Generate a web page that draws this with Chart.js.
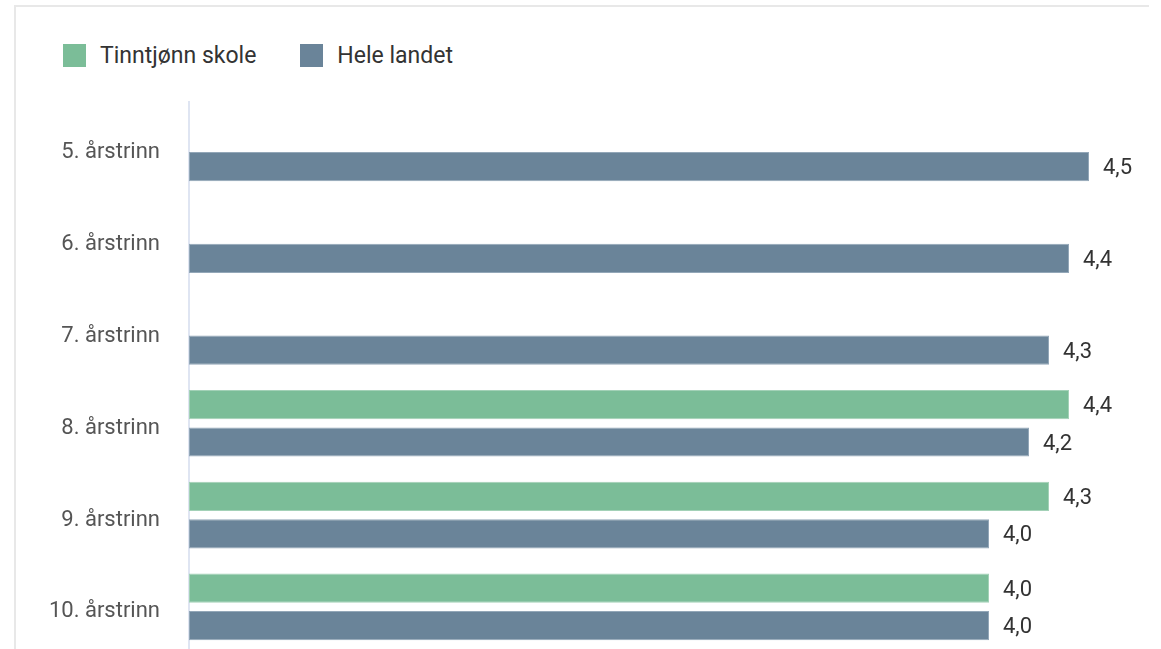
<!DOCTYPE html>
<html>
<head>
<meta charset="utf-8">
<script src="https://cdn.jsdelivr.net/npm/chart.js@4.4.0/dist/chart.umd.min.js"></script>
<style>
  html, body { margin: 0; padding: 0; background: #fff; overflow: hidden; width: 1161px; height: 649px; }
  .card { position: absolute; left: 14px; top: 5px; width: 1133px; height: 700px;
          border-top: 2px solid #e8e8e8; border-left: 2px solid #e8e8e8; }
  .legend { position: absolute; left: 63px; top: 42px; font-family: Roboto, sans-serif;
            font-size: 23px; color: #333; display: flex; align-items: center; }
  .legend span.box { display: inline-block; width: 23px; height: 23px; margin-right: 14px; }
  .legend .item { display: flex; align-items: center; margin-right: 44px; }
  #wrap { position: absolute; left: 0; top: 0; }
</style>
</head>
<body>
<div class="card"></div>
<div class="legend" id="legend"></div>
<div id="wrap"><canvas id="chart" width="1200" height="695"></canvas></div>
<script>
// categories and values
const categories = ['5. årstrinn', '6. årstrinn', '7. årstrinn', '8. årstrinn', '9. årstrinn', '10. årstrinn'];
const skoleValues = [null, null, null, 4.4, 4.3, 4.0];
const landetValues = [4.5, 4.4, 4.3, 4.2, 4.0, 4.0];
const seriesNames = ['Tinntjønn skole', 'Hele landet'];
const seriesColors = ['#7bbd98', '#6a8499'];
const seriesBorders = ['#a3d1b7', '#93a7b8'];

// simple html legend
const legendEl = document.getElementById('legend');
seriesNames.forEach((name, i) => {
  const item = document.createElement('div');
  item.className = 'item';
  item.innerHTML = `<span class="box" style="background:${seriesColors[i]}"></span>${name}`;
  legendEl.appendChild(item);
});

// value labels at the end of each bar
const valueLabels = {
  id: 'valueLabels',
  afterDatasetsDraw(chart) {
    const ctx = chart.ctx;
    ctx.save();
    ctx.font = '22px Roboto, sans-serif';
    ctx.fillStyle = '#333';
    ctx.textBaseline = 'middle';
    chart.data.datasets.forEach((ds, di) => {
      chart.getDatasetMeta(di).data.forEach((bar, i) => {
        const v = ds.data[i];
        if (v === null || v === undefined) return;
        ctx.fillText(v.toFixed(1).replace('.', ','), bar.x + 14, bar.y + 2);
      });
    });
    ctx.restore();
  }
};

const ctx = document.getElementById('chart').getContext('2d');
new Chart(ctx, {
  type: 'bar',
  data: {
    labels: categories,
    datasets: [{
      label: seriesNames[0],
      data: skoleValues,
      backgroundColor: seriesColors[0],
      borderColor: seriesBorders[0],
      borderWidth: 1,
      borderSkipped: false,
      barPercentage: 0.78,
      categoryPercentage: 0.815
    }, {
      label: seriesNames[1],
      data: landetValues,
      backgroundColor: seriesColors[1],
      borderColor: seriesBorders[1],
      borderWidth: 1,
      borderSkipped: false,
      barPercentage: 0.78,
      categoryPercentage: 0.815
    }]
  },
  options: {
    indexAxis: 'y',
    responsive: false,
    animation: false,
    layout: { padding: { top: 102, bottom: 10, left: 0, right: 11 } },
    plugins: {
      legend: { display: false },
      tooltip: { enabled: false }
    },
    scales: {
      x: {
        display: false,
        min: 0,
        max: 5
      },
      y: {
        grid: { display: false, drawTicks: false },
        border: { display: true, color: '#dfe5f2', width: 2 },
        ticks: { color: '#555', padding: 29, labelOffset: 5, font: { family: 'Roboto', size: 22 } },
        afterFit(scale) { scale.width = 189; }
      }
    }
  },
  plugins: [valueLabels]
});
</script>
</body>
</html>
